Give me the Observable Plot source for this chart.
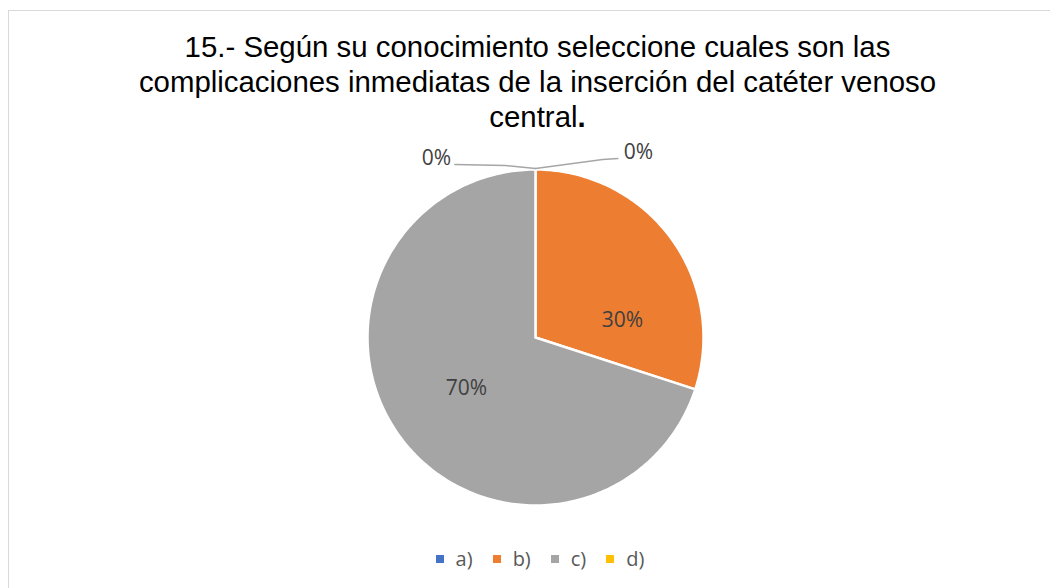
<!DOCTYPE html>
<html><head><meta charset="utf-8">
<script src="https://cdn.jsdelivr.net/npm/d3@7"></script>
<script src="https://cdn.jsdelivr.net/npm/@observablehq/plot@0.6"></script>
<style>
body{margin:0;background:#fff;}
#wrap{position:relative;width:1050px;height:588px;overflow:hidden;background:#fff;}
#frame{position:absolute;left:8px;top:10px;width:1100px;height:700px;border:1px solid #d9d9d9;box-sizing:border-box;}
#title{position:absolute;left:0;width:1075px;top:29px;text-align:center;font-family:"Liberation Sans",Arial,sans-serif;font-size:29.4px;line-height:35px;color:#000;}
#chart{position:absolute;left:0;top:140px;}
#legend{position:absolute;top:545px;left:0;width:1080px;display:flex;justify-content:center;font-family:"Open Sans",sans-serif;font-size:20px;color:#595959;}
.item{display:flex;align-items:center;margin:0 10px;}
.sw{width:8px;height:8px;margin-right:12px;}
</style></head>
<body><div id="wrap"><div id="frame"></div>
<div id="title">15.- Según su conocimiento seleccione cuales son las<br>complicaciones inmediatas de la inserción del catéter venoso<br>central<b>.</b></div>
<div id="chart"></div><div id="legend"></div></div>
<script>
const categories = ["a)", "b)", "c)", "d)"];
const values = [0, 30, 70, 0];
const labels = ["0%", "30%", "70%", "0%"];
const colors = ["#4472c4", "#ed7d31", "#a5a5a5", "#ffc000"];

// layout (label anchor positions in unit-circle coordinates)
const labelPos = [[0.613, 1.101], [0.518, 0.101], [-0.411, -0.304], [-0.589, 1.065]];
const elbow = [[0.40, 1.06, 0.49, 1.065], null, null, [-0.18, 1.024, -0.48, 1.03]];

const arcs = d3.pie().sort(null).value(d => d)(values);
const slicePts = [];
arcs.forEach((a, i) => {
  const span = a.endAngle - a.startAngle;
  if (span <= 0) return;
  const n = Math.max(2, Math.ceil(span / (Math.PI / 180)));
  slicePts.push({cat: categories[i], x: 0, y: 0});
  for (let k = 0; k <= n; k++) {
    const t = a.startAngle + span * k / n;
    slicePts.push({cat: categories[i], x: Math.sin(t), y: Math.cos(t)});
  }
  slicePts.push({cat: categories[i], x: 0, y: 0});
});

const leaderPts = [];
arcs.forEach((a, i) => {
  if (!elbow[i]) return;
  const t = a.startAngle;
  leaderPts.push({cat: categories[i], x: Math.sin(t), y: Math.cos(t) + 0.006});
  leaderPts.push({cat: categories[i], x: elbow[i][0], y: elbow[i][1]});
  leaderPts.push({cat: categories[i], x: elbow[i][2], y: elbow[i][3]});
});

const labelData = categories.map((c, i) => ({cat: c, label: labels[i], x: labelPos[i][0], y: labelPos[i][1]}));

const chart = Plot.plot({
  width: 1050, height: 390,
  marginTop: 0, marginBottom: 0, marginLeft: 0, marginRight: 0,
  x: {domain: [-1, 1], range: [367, 703], axis: null},
  y: {domain: [-1, 1], range: [365, 29], axis: null},
  color: {domain: categories, range: colors},
  style: {background: "transparent", overflow: "visible"},
  marks: [
    Plot.line(slicePts, {x: "x", y: "y", z: "cat", fill: "cat", stroke: "white", strokeWidth: 2.5, curve: "linear", strokeLinejoin: "round"}),
    Plot.line(leaderPts, {x: "x", y: "y", z: "cat", stroke: "#a6a6a6", strokeWidth: 1.5}),
    Plot.text(labelData, {x: "x", y: "y", text: "label", fill: "#404040", fontSize: 21, fontFamily: "Open Sans, sans-serif"})
  ]
});
document.getElementById("chart").appendChild(chart);

const leg = document.getElementById("legend");
categories.forEach((c, i) => {
  const it = document.createElement("div"); it.className = "item";
  const sw = document.createElement("div"); sw.className = "sw"; sw.style.background = colors[i];
  const tx = document.createElement("span"); tx.textContent = c;
  it.appendChild(sw); it.appendChild(tx); leg.appendChild(it);
});
</script></body></html>
